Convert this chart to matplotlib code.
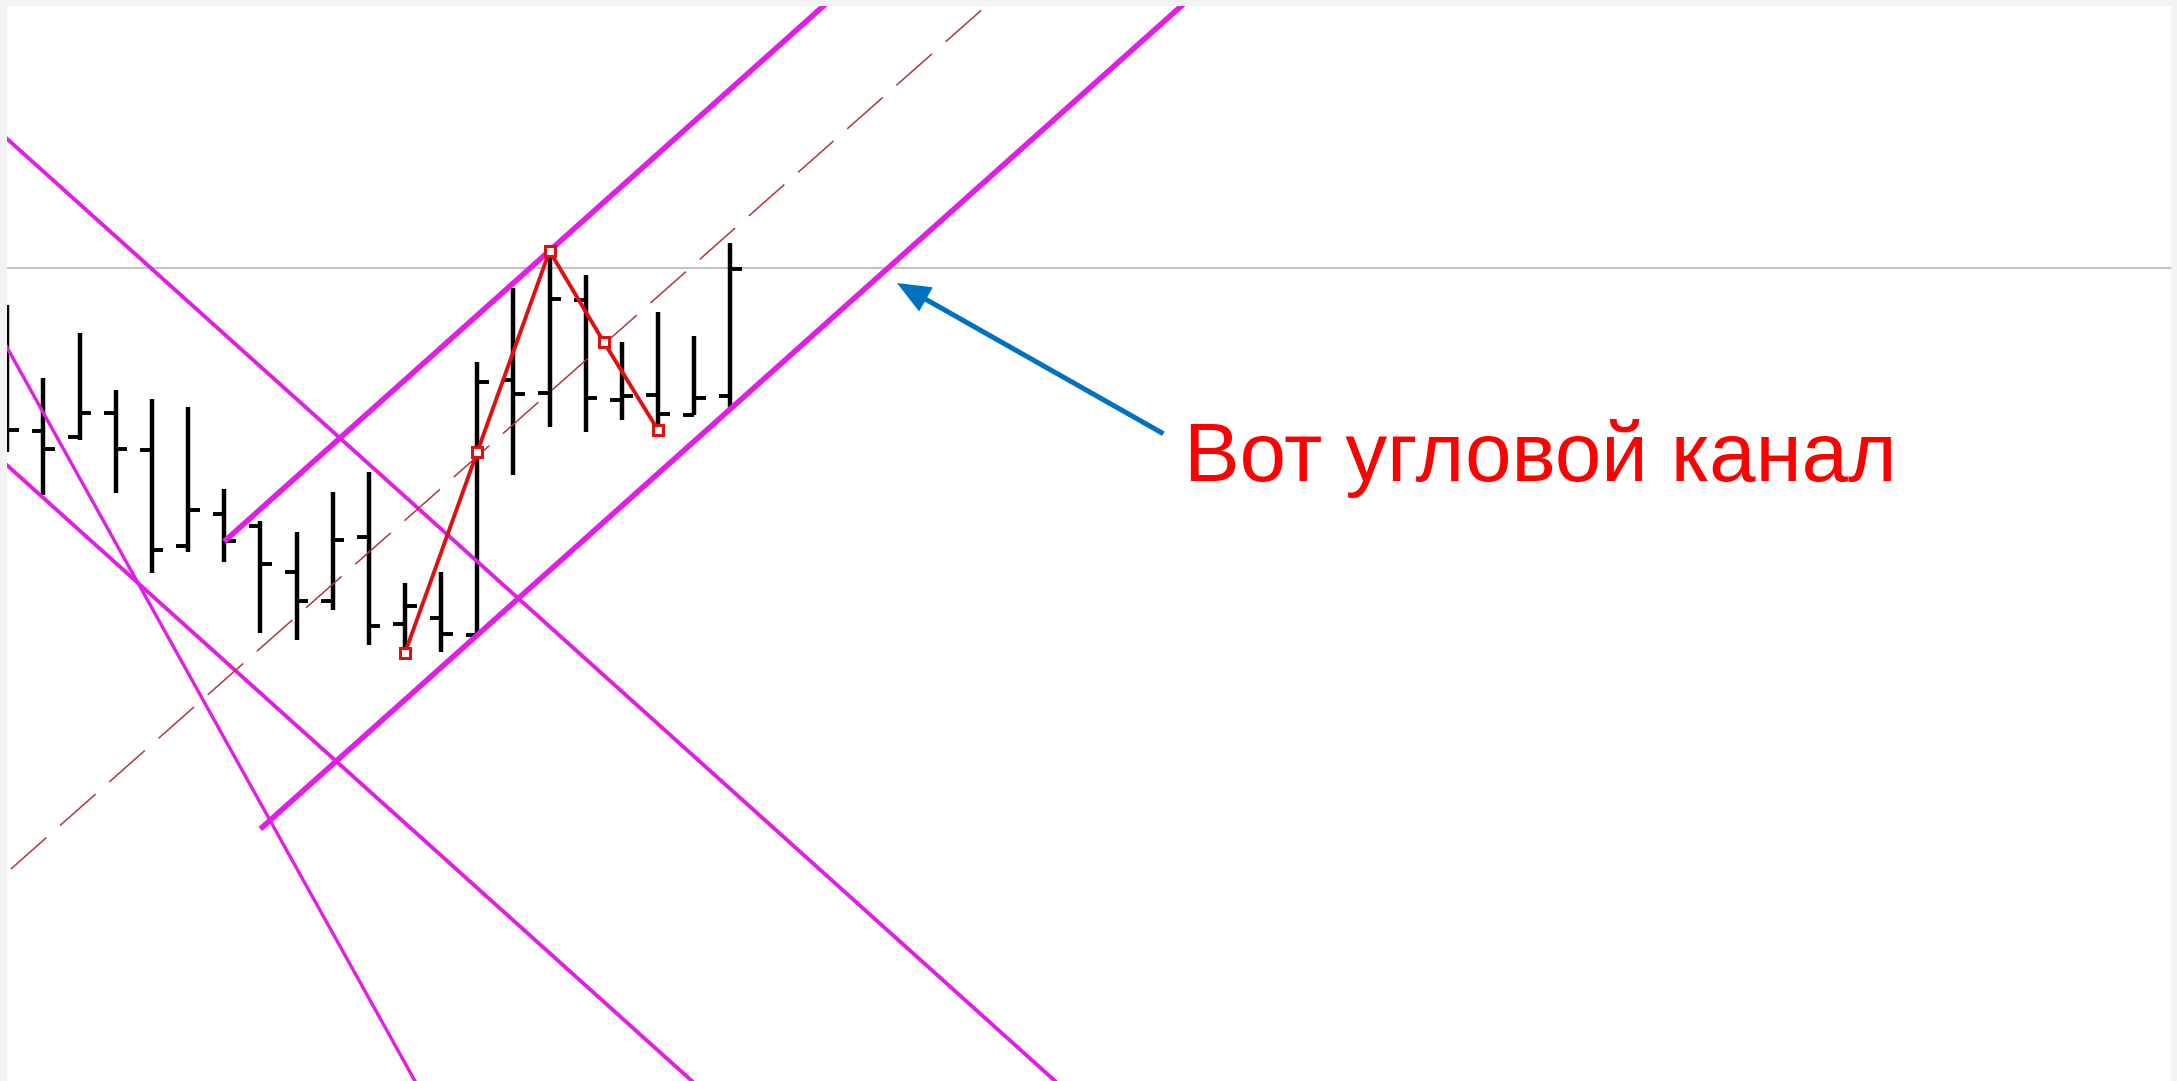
import matplotlib
matplotlib.use("Agg")
import matplotlib.pyplot as plt
import numpy as np

# ---- data (price units; bar index on x) ----
bar_index = list(range(21))
highs = [77.6, 70.3, 74.8, 69.1, 68.2, 67.4, 59.2, 56.0, 54.9, 58.9, 60.9,
         49.8, 50.9, 71.9, 79.3, 83.0, 80.6, 73.9, 76.9, 74.5, 83.8]
lows = [62.9, 58.6, 64.1, 58.8, 50.8, 52.9, 51.9, 44.8, 44.1, 47.1, 43.6,
        42.8, 42.9, 44.6, 60.6, 65.4, 64.9, 66.1, 65.1, 66.6, 67.4]
opens = [64.0, 65.0, 64.4, 66.8, 63.1, 53.5, 56.7, 55.5, 50.9, 48.0, 54.4,
         45.7, 46.3, 44.6, 70.1, 68.8, 78.1, 68.1, 68.6, 66.6, 68.5]
closes = [65.1, 63.2, 66.8, 63.2, 53.1, 57.1, 54.0, 51.7, 48.0, 54.1, 45.5,
          47.5, 44.7, 69.9, 68.7, 78.2, 68.3, 68.5, 66.7, 68.3, 81.2]

# zigzag (bar index, price)
zz_x = [11, 13, 15, 16.5, 18]
zz_y = [42.8, 62.9, 83.0, 73.9, 65.1]

# channel lines: (x0, y0, x1, y1)
upper_channel = (6.0, 53.95, 22.7, 107.9)
lower_channel = (7.0, 25.2, 32.6, 107.9)
center_dashed = (0.1, 21.2, 27.2, 107.9)
desc_a = (-1.0, 97.45, 30.0, -3.3)
desc_b = (-1.0, 64.8, 22.0, -9.95)
desc_c = (-1.0, 79.8, 12.5, -7.95)

ref_level = 81.27
label = "Вот угловой канал"
arrow_tip = (24.61, 79.8)
arrow_tail = (31.98, 64.73)
text_pos = (32.55, 60.0)

# ---- figure ----
W, H = 2177, 1081
fig = plt.figure(figsize=(W / 100, H / 100), dpi=100, facecolor="#f3f3f3")
left_px, right_px, top_px = 7, 2171, 6
ax = fig.add_axes([left_px / W, 0, (right_px - left_px) / W, (H - top_px) / H])
ax.set_facecolor("white")
for s in ax.spines.values():
    s.set_visible(False)
ax.set_xticks([])
ax.set_yticks([])
ax.set_xlim((left_px - 7.3) / 36.15, (right_px - 7.3) / 36.15)
ax.set_ylim(0, (H - top_px) / 10)

# reference horizontal line
ax.axhline(ref_level, color="#c4c4c4", lw=1.6, zorder=1)

# OHLC bars
tick = 0.32
ax.vlines(bar_index, lows, highs, color="black", lw=3.2, capstyle="butt", zorder=2)
ax.hlines(opens, np.array(bar_index) - tick, bar_index, color="black", lw=2.8, zorder=2)
ax.hlines(closes, bar_index, np.array(bar_index) + tick, color="black", lw=2.8, zorder=2)

mag = "#e21de6"
for (x0, y0, x1, y1), lw in [(upper_channel, 4.0), (lower_channel, 4.0),
                             (desc_a, 2.8), (desc_b, 2.8), (desc_c, 2.4)]:
    ax.plot([x0, x1], [y0, y1], color=mag, lw=lw, solid_capstyle="butt", zorder=3)

x0, y0, x1, y1 = center_dashed
ax.plot([x0, x1], [y0, y1], color="#b0383c", lw=1.1,
        linestyle=(0, (31, 12)), zorder=3)

# zigzag
ax.plot(zz_x, zz_y, color="#e01010", lw=2.8, marker="s", markersize=7.5,
        markerfacecolor="white", markeredgecolor="#e01010", markeredgewidth=2.2,
        zorder=4)

# annotation
ax.annotate("", xy=arrow_tip, xytext=arrow_tail,
            arrowprops=dict(width=3.6, headwidth=20, headlength=24, shrink=0,
                            color="#0070c0", lw=0), zorder=5)
ax.text(text_pos[0], text_pos[1], label, color="#ff0000", fontsize=60,
        family=["Liberation Sans", "DejaVu Sans"], ha="left", va="baseline",
        zorder=5)

fig.savefig("out.png", dpi=100, facecolor=fig.get_facecolor())
